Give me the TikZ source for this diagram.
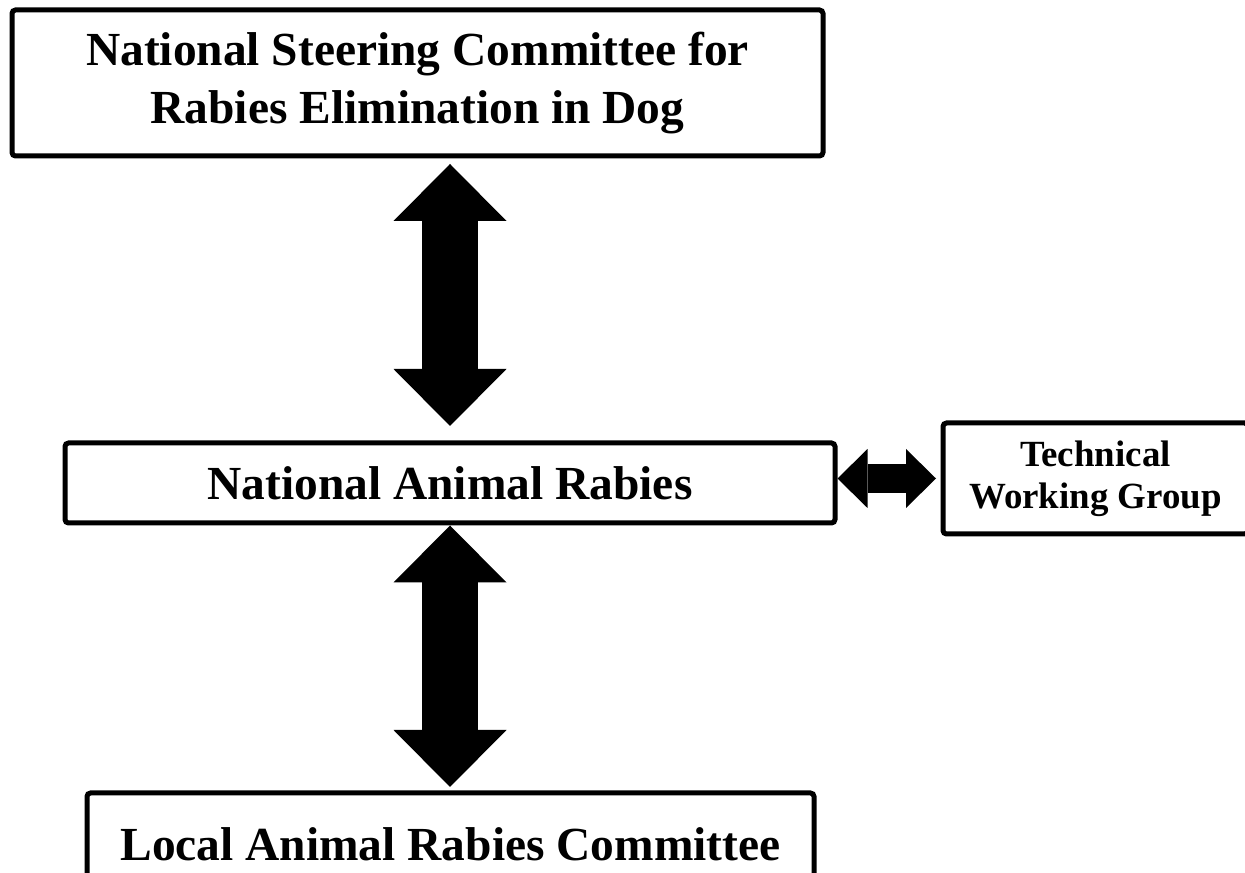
\documentclass[tikz,border=0pt]{standalone}
\usepackage{fontspec}
\setmainfont{Liberation Serif}
\usepackage{tikz}
\usetikzlibrary{arrows.meta, positioning, calc}
\tikzset{
  block/.style={rectangle, draw=black, fill=white, align=center,
    line width=0.1cm, rounded corners=2pt, inner sep=0pt,
    font=\fontsize{27}{33}\selectfont\bfseries},
  smallblock/.style={block, font=\fontsize{21}{23.8}\selectfont\bfseries},
  bigarrow/.style={{Triangle[length=1.14cm, width=2.26cm, line width=0pt]}-{Triangle[length=1.14cm, width=2.26cm, line width=0pt]},
    line width=1.12cm, color=black},
  sidearrow/.style={{Triangle[length=0.6cm, width=1.18cm, line width=0pt]}-{Triangle[length=0.6cm, width=1.18cm, line width=0pt]},
    line width=0.58cm, color=black}
}

\begin{document}
\begin{tikzpicture}
  \useasboundingbox (0,0) rectangle (24.9,17.46);

  % Committees
  \node[block, minimum width=16.22cm, minimum height=2.92cm] (nsc) at (8.35,15.8)
    {National Steering Committee for\\Rabies Elimination in Dog};
  \node[block, minimum width=15.4cm, minimum height=1.6cm] (nar) at (9.0,7.8)
    {National Animal Rabies};
  \node[smallblock, minimum width=6.1cm, minimum height=2.22cm] (twg) at (21.91,7.89)
    {Technical\\Working Group};
  \node[block, minimum width=14.54cm, minimum height=2.04cm] (larc) at (9.01,0.58)
    {Local Animal Rabies Committee};

  % Links
  \draw[bigarrow, shorten <=0.11cm, shorten >=0.29cm] (nar.north |- nsc.south) -- (nar.north);
  \draw[bigarrow, shorten >=0.07cm] (nar.south) -- (nar.south |- larc.north);
  \draw[sidearrow, shorten >=0.09cm] (nar.east |- twg.west) -- (twg.west);
\end{tikzpicture}
\end{document}
